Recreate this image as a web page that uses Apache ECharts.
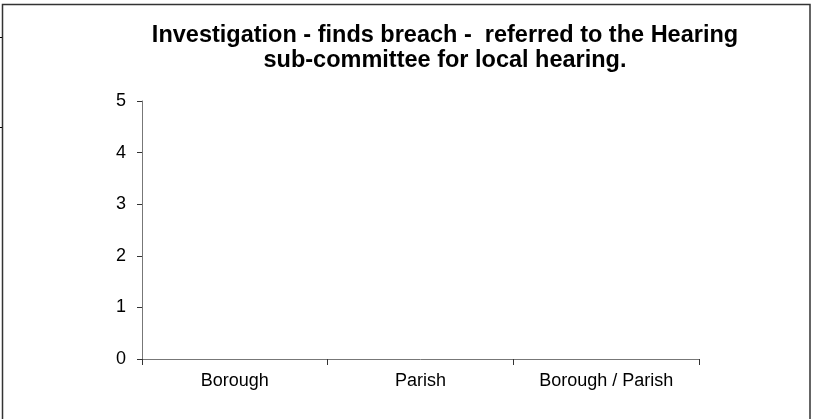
<!DOCTYPE html>
<html><head><meta charset="utf-8">
<script src="https://cdn.jsdelivr.net/npm/echarts@6/dist/echarts.min.js"></script>
<style>html,body{margin:0;padding:0;background:#fff}#c{width:814px;height:419px}</style>
</head><body><div id="c"></div>
<script>
var titleText = 'Investigation - finds breach -  referred to the Hearing\nsub-committee for local hearing.';
var categories = ['Borough', 'Parish', 'Borough / Parish'];
var values = [0, 0, 0];
var yTicks = [0, 1, 2, 3, 4, 5];

var chart = echarts.init(document.getElementById('c'), null, {renderer: 'canvas'});
chart.setOption({
  animation: false,
  backgroundColor: '#fff',
  title: {
    text: titleText,
    left: 440, textAlign: 'center', top: 18,
    textStyle: {fontFamily: 'Liberation Sans, Arial, sans-serif', fontWeight: 'bold', fontSize: 23.5, lineHeight: 25, color: '#000'}
  },
  grid: {left: 142, right: 115, top: 101, bottom: 60, containLabel: false},
  xAxis: {
    type: 'category', data: categories, boundaryGap: true,
    axisLine: {lineStyle: {color: '#777', width: 1}},
    axisTick: {show: true, length: 6, inside: false, lineStyle: {color: '#333'}},
    axisLabel: {margin: 13, fontFamily: 'Liberation Sans, Arial, sans-serif', fontSize: 18, color: '#000'},
    splitLine: {show: false}
  },
  yAxis: {
    type: 'value', min: yTicks[0], max: yTicks[yTicks.length - 1], interval: 1,
    axisLine: {show: true, lineStyle: {color: '#777', width: 1}},
    axisTick: {show: true, length: 5, lineStyle: {color: '#333'}},
    axisLabel: {margin: 16, fontFamily: 'Liberation Sans, Arial, sans-serif', fontSize: 18, color: '#000'},
    splitLine: {show: false}
  },
  series: [{type: 'bar', data: values, itemStyle: {color: '#9999ff'}}],
  graphic: [
    {type: 'rect', shape: {x: 2.5, y: 4.5, width: 807.5, height: 430}, style: {fill: 'none', stroke: '#333', lineWidth: 1.5}, silent: true},
    {type: 'polyline', shape: {points: [[0, 37.5], [2, 37.5]]}, style: {stroke: '#000', lineWidth: 1}},
    {type: 'polyline', shape: {points: [[0, 127.5], [2, 127.5]]}, style: {stroke: '#000', lineWidth: 1}}
  ]
});
</script></body></html>
